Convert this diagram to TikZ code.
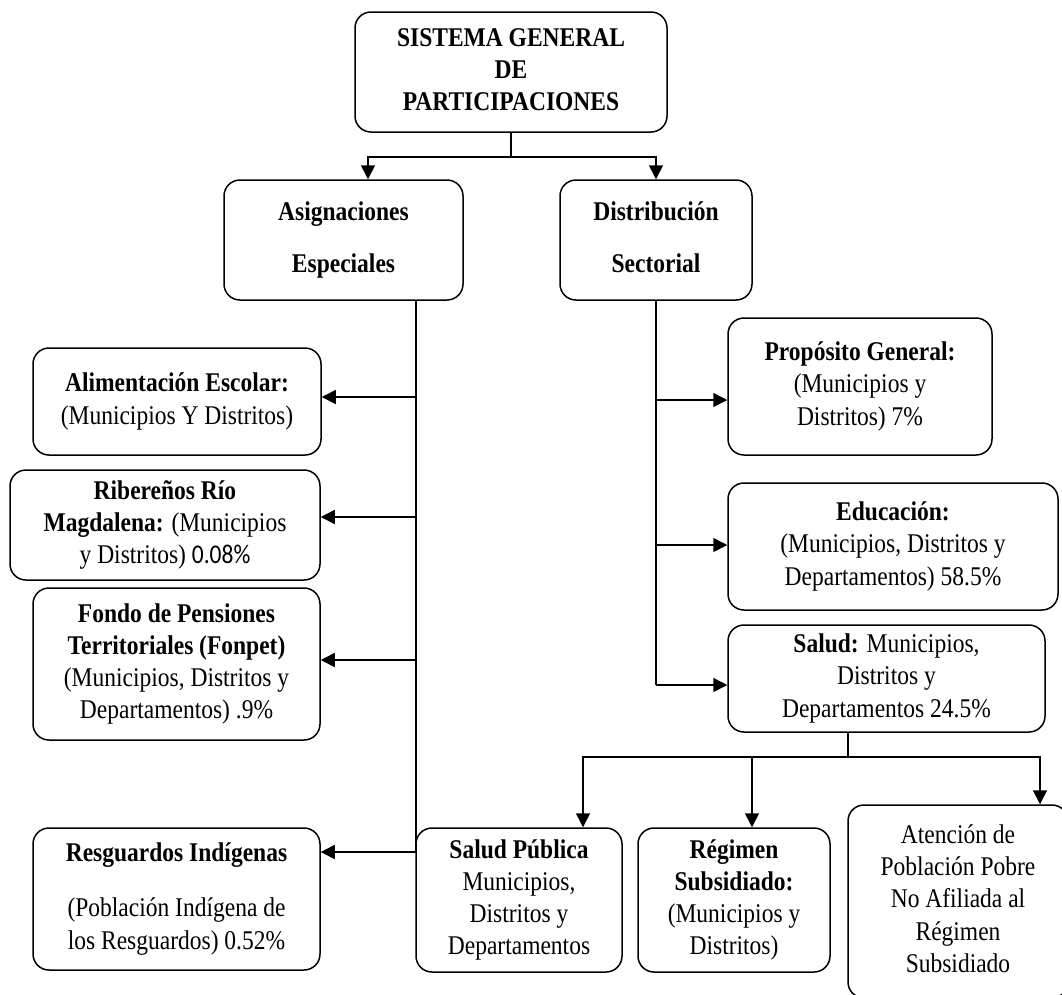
\documentclass[tikz,border=0pt]{standalone}
\usepackage{fontspec}
\usepackage{graphicx}
\setmainfont{Liberation Serif}
\newfontfamily\calibri{Carlito}
\usetikzlibrary{arrows.meta,calc}
\newcommand{\vstretch}[1]{\scalebox{1}[1.15]{\begin{tabular}{@{}c@{}}#1\end{tabular}}}
\begin{document}
\begin{tikzpicture}[x=1pt,y=-1pt,
  box/.style={draw, line width=1.5pt, rounded corners=16pt, inner sep=0pt,
    font=\fontsize{23.5}{28}\selectfont},
  conn/.style={line width=1.5pt},
  arr/.style={line width=1.5pt, -{Triangle[length=14pt,width=14pt]}}]
\useasboundingbox (0,0) rectangle (1062,994);
\clip (0,0) rectangle (1062,994);
% top
\node[box, minimum width=312pt, minimum height=120pt] (top) at (511,72)
  {\vstretch{\textbf{SISTEMA GENERAL}\\ \textbf{DE}\\ \textbf{PARTICIPACIONES}}};
\node[box, minimum width=239pt, minimum height=120pt] (asig) at (343.5,240)
  {\vstretch{\textbf{Asignaciones}\\[17pt] \textbf{Especiales}}};
\node[box, minimum width=192pt, minimum height=120pt] (dist) at (656,240)
  {\vstretch{\textbf{Distribución}\\[17pt] \textbf{Sectorial}}};
% left column
\node[box, minimum width=288pt, minimum height=107pt] (alim) at (177,401.5)
  {\vstretch{\textbf{Alimentación Escolar:}\\ (Municipios Y Distritos)}};
\node[box, minimum width=310pt, minimum height=110pt] (rib) at (165,525)
  {\vstretch{\textbf{Ribereños Río}\\ \textbf{Magdalena:} (Municipios\\ y Distritos) {\calibri 0.08\%}}};
\node[box, minimum width=287pt, minimum height=152pt] (fondo) at (176.5,664)
  {\vstretch{\textbf{Fondo de Pensiones}\\ \textbf{Territoriales (Fonpet)}\\ (Municipios, Distritos y\\ Departamentos) .9\%}};
\node[box, minimum width=287pt, minimum height=142pt] (resg) at (176.5,899)
  {\vstretch{\textbf{Resguardos Indígenas}\\[20pt] (Población Indígena de\\ los Resguardos) 0.52\%}};
% right column
\node[box, minimum width=264pt, minimum height=137pt] (prop) at (860,386.5)
  {\vstretch{\textbf{Propósito General:}\\ (Municipios y\\ Distritos) 7\%}};
\node[box, minimum width=330pt, minimum height=127pt] (edu) at (893,546.5)
  {\vstretch{\textbf{Educación:}\\ (Municipios, Distritos y\\ Departamentos) 58.5\%}};
\node[box, minimum width=317pt, minimum height=107pt] (salud) at (886.5,678.5)
  {\vstretch{\textbf{Salud:} Municipios,\\ Distritos y\\ Departamentos 24.5\%}};
% bottom row
\node[box, minimum width=206pt, minimum height=144pt] (sp) at (519,900)
  {\vstretch{\textbf{Salud Pública}\\ Municipios,\\ Distritos y\\ Departamentos}};
\node[box, minimum width=192pt, minimum height=144pt] (reg) at (734,900)
  {\vstretch{\textbf{Régimen}\\ \textbf{Subsidiado:}\\ (Municipios y\\ Distritos)}};
\node[box, minimum width=220pt, minimum height=193pt] (aten) at (958,901.5)
  {\vstretch{Atención de\\ Población Pobre\\ No Afiliada al\\ Régimen\\ Subsidiado}};
% arrow attachment points on boxes
\coordinate (alimE) at ([yshift=4.5pt]alim.east);
\coordinate (ribE) at ([yshift=8pt]rib.east);
\coordinate (fondoE) at ([yshift=4pt]fondo.east);
\coordinate (resgE) at ([yshift=47pt]resg.east);
\coordinate (propW) at ([yshift=-13.5pt]prop.west);
\coordinate (eduW) at ([yshift=1.5pt]edu.west);
\coordinate (saludW) at ([yshift=-6.5pt]salud.west);
% connectors top
\draw[conn] (top.south) -- ++(0,24) coordinate (topbus);
\draw[arr] (topbus) -| ([xshift=24.5pt]asig.north);
\draw[arr] (topbus) -| (dist.north);
% left trunk
\coordinate (lt) at ([xshift=72.5pt]asig.south);
\draw[conn] (lt) -- (lt |- resgE);
\draw[arr] (lt |- alimE) -- (alimE);
\draw[arr] (lt |- ribE) -- (ribE);
\draw[arr] (lt |- fondoE) -- (fondoE);
\draw[arr] (lt |- resgE) -- (resgE);
% right trunk
\draw[conn] (dist.south) -- (dist.south |- saludW);
\draw[arr] (dist.south |- propW) -- (propW);
\draw[arr] (dist.south |- eduW) -- (eduW);
\draw[arr] (dist.south |- saludW) -- (saludW);
% salud branches
\draw[conn] ([xshift=-38.5pt]salud.south) -- ++(0,24) coordinate (sbus);
\draw[arr] (sbus) -| ([xshift=64pt]sp.north);
\draw[arr] (sbus) -| ([xshift=18pt]reg.north);
\draw[arr] (sbus) -| ([xshift=82pt]aten.north);
\end{tikzpicture}
\end{document}
